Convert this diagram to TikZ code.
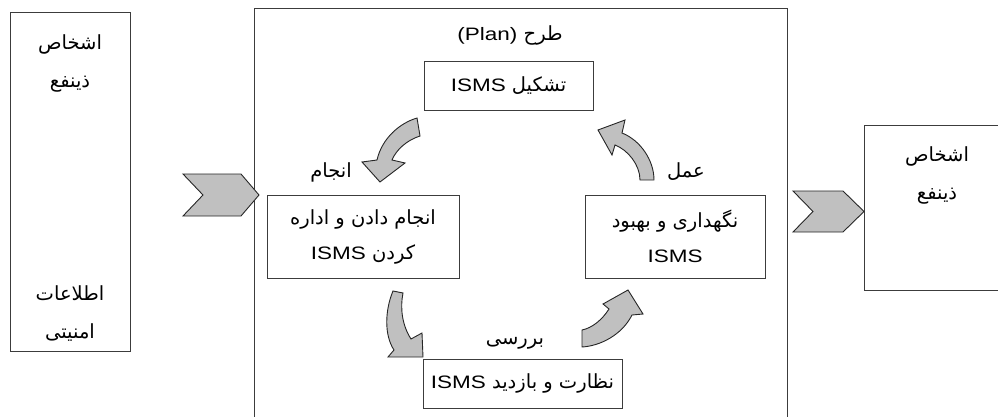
\documentclass[tikz,border=0pt]{standalone}
\usepackage{fontspec}
\setmainfont[FakeStretch=1.25]{Liberation Sans}
\newfontfamily\fa[Script=Arabic]{DejaVu Sans}
\newfontfamily\la[FakeStretch=1.25]{Liberation Sans}
\TeXXeTstate=1
\definecolor{arrowgray}{RGB}{192,192,192}
\definecolor{linegray}{RGB}{60,60,60}
\tikzset{
  box/.style={draw=linegray, line width=0.9pt, inner sep=0pt, align=center,
    font={\fontsize{19.5}{35}\selectfont\fa}},
  lbl/.style={inner sep=0pt, align=center, font={\fontsize{19.5}{38}\selectfont\fa}},
  chev/.style={draw=black!85, line width=0.9pt, fill=arrowgray, line join=miter},
  curvarrow/.style={draw=black!85, line width=0.9pt, fill=arrowgray, line join=miter},
}
\newcommand{\lat}[1]{{\la\fontsize{18}{35}\selectfont #1}}
\begin{document}
\begin{tikzpicture}[x=1pt,y=-1pt]
\useasboundingbox (0,0) rectangle (998,417);
\clip (0,0) rectangle (998,417);
% outer boxes
\node[box, minimum width=120, minimum height=339] (left) at (70,181.5) {};
\node[box, minimum width=533, minimum height=430] (main) at (520.5,223) {};
\node[box, minimum width=150, minimum height=165] (right) at (939,207.5) {};
% texts of outer boxes
\node[lbl] (lefttop) at (70,63) {\beginR اشخاص\endR\\\beginR ذینفع\endR};
\node[lbl] (leftbot) at (70,314) {\beginR اطلاعات\endR\\\beginR امنیتی\endR};
\node[lbl] (righttxt) at (937,175) {\beginR اشخاص\endR\\\beginR ذینفع\endR};
% inner boxes
\node[box, minimum width=169, minimum height=49] (plan) at (508.5,85.5)
  {\beginR تشکیل \beginL\lat{ISMS}\endL\endR};
\node[box, minimum width=192, minimum height=83] (do) at (363,236.5)
  {\beginR انجام دادن و اداره\endR\\\beginR کردن \beginL\lat{ISMS}\endL\endR};
\node[box, minimum width=180, minimum height=83] (act) at (675,236.5)
  {\beginR نگهداری و بهبود\endR\\\lat{ISMS}};
\node[box, minimum width=199, minimum height=49] (check) at (522.5,383.5)
  {\beginR نظارت و بازدید \beginL\lat{ISMS}\endL\endR};
% phase labels
\node[lbl] (lplan) at (510,35) {\beginR طرح \beginL\lat{(Plan)}\endL\endR};
\node[lbl] (ldo) at (331,172) {\beginR انجام\endR};
\node[lbl] (lact) at (686,172) {\beginR عمل\endR};
\node[lbl] (lcheck) at (515,343) {\beginR بررسی\endR};
% chevrons
\draw[chev] (183,174) -- (241,174) -- (259,195) -- (241,216) -- (183,216) -- (203,195) -- cycle;
\draw[chev] (793,191) -- (843,191) -- (864,211.5) -- (843,232) -- (793,232) -- (813,211.5) -- cycle;
% curved arrows
\draw[curvarrow] (417,118) .. controls (400,123) and (382,138) .. (377,160) -- (362,162) -- (380,182) -- (405,163) -- (392,160) .. controls (396,150) and (407,140) .. (420,136) -- cycle;
\draw[curvarrow] (654,180) .. controls (654,160) and (640,140) .. (622,133) -- (625,120) -- (598,130) -- (612,155) -- (615,145) .. controls (628,150) and (640,165) .. (640,180) -- cycle;
\draw[curvarrow] (393,291) .. controls (385,310) and (384,335) .. (394,350) -- (388,357) -- (423,357) -- (422,333) -- (411,339) .. controls (402,325) and (400,308) .. (403,293) -- cycle;
\draw[curvarrow] (582,347) .. controls (600,346) and (622,335) .. (632,315) -- (643,314) -- (628,290) -- (603,304) -- (609,309) .. controls (602,320) and (592,328) .. (582,330) -- cycle;
\end{tikzpicture}
\end{document}
